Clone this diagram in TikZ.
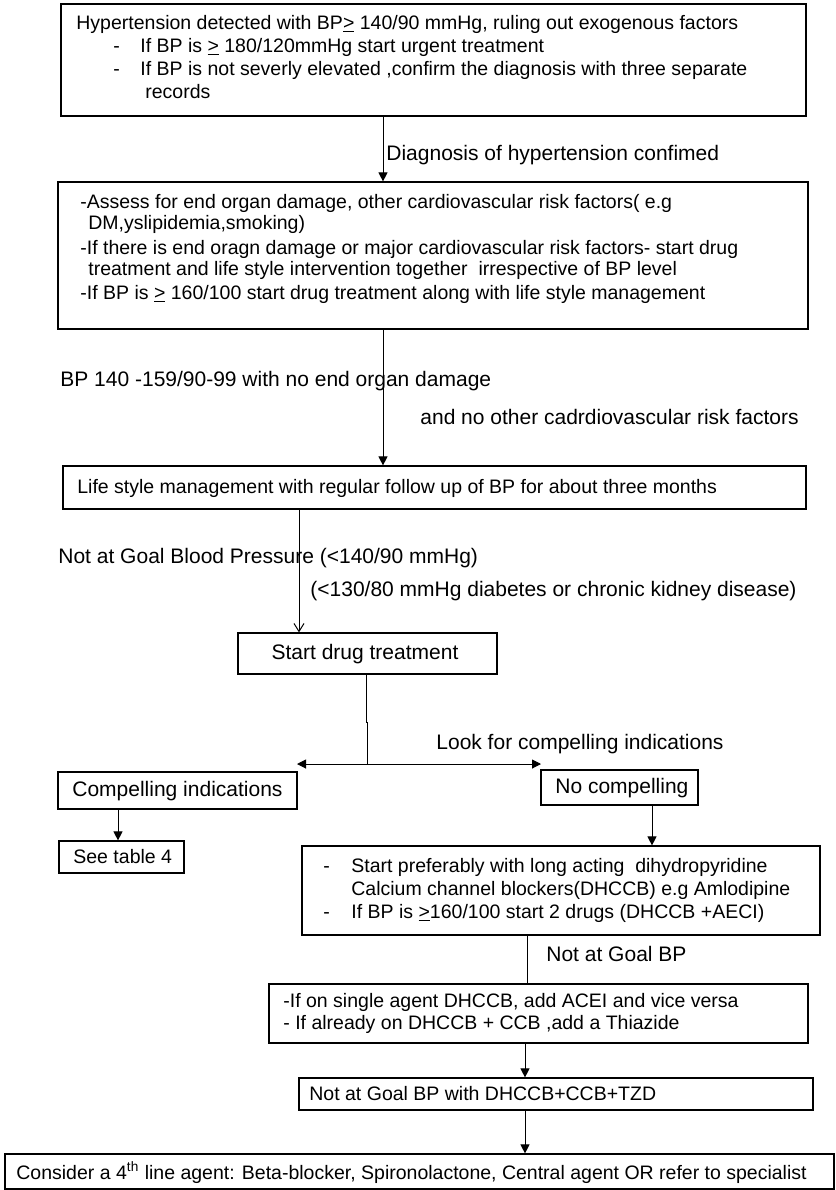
\documentclass[tikz,border=0pt]{standalone}
\usepackage{fontspec}
\setmainfont{Liberation Sans}
\usetikzlibrary{arrows.meta,fit}
\begin{document}
\begin{tikzpicture}[x=0.5pt,y=-0.5pt,
  box/.style={draw=black, line width=0.6pt, inner sep=0pt},
  txs/.style={inner sep=0pt, anchor=base west, font=\fontsize{9.75pt}{10.6pt}\selectfont},
  txl/.style={inner sep=0pt, anchor=base west, font=\fontsize{10.5pt}{11.5pt}\selectfont},
  link/.style={line width=0.5pt},
  arr/.style={link, -{Triangle[length=4.5pt,width=4.5pt]}},
  arrv/.style={link, -{Straight Barb[length=4pt,width=5pt]}},
]
\useasboundingbox (0,0) rectangle (836,1190);

% ---- boxes
\node[box, fit={(61,4) (806,116)}]      (b1) {};
\node[box, fit={(58,182) (808,329)}]    (b2) {};
\node[box, fit={(63,466) (806,509)}]    (b3) {};
\node[box, fit={(238,633) (497,674)}]   (b4) {};
\node[box, fit={(58,772) (297,809)}]    (b5) {};
\node[box, fit={(541,770) (698,805)}]   (b6) {};
\node[box, fit={(59,841) (184,873)}]    (b7) {};
\node[box, fit={(302,846) (820,935)}]   (b8) {};
\node[box, fit={(269,984) (808,1043)}]  (b9) {};
\node[box, fit={(299,1078) (813,1110)}] (b10) {};
\node[box, fit={(5,1154) (834,1189)}]   (b11) {};

% ---- box texts
\node[txs] (b1l1) at (76,29) {Hypertension detected with BP\underline{>} 140/90 mmHg, ruling out exogenous factors};
\node[txs] (b1l2) at (113,52) {\makebox[13.5pt][l]{-}If BP is \underline{>} 180/120mmHg start urgent treatment};
\node[txs] (b1l3) at (113,75.5) {\makebox[13.5pt][l]{-}If BP is not severly elevated ,confirm the diagnosis with three separate};
\node[txs] (b1l4) at (145,98) {records};

\node[txs] (b2l1) at (80,208) {-Assess for end organ damage, other cardiovascular risk factors( e.g};
\node[txs] (b2l2) at (88,229.5) {DM,yslipidemia,smoking)};
\node[txs] (b2l3) at (80,254) {-If there is end oragn damage or major cardiovascular risk factors- start drug};
\node[txs] (b2l4) at (88,275.5) {treatment and life style intervention together\ \ irrespective of BP level};
\node[txs] (b2l5) at (80,299) {-If BP is \underline{>} 160/100 start drug treatment along with life style management};

\node[txs] (b3l1) at (77,493) {Life style management with regular follow up of BP for about three months};

\node[txl, anchor=base] (b4l1) at (365,659) {Start drug treatment};
\node[txl] (b5l1) at (72,796) {Compelling indications};
\node[txl] (b6l1) at (555,793) {No compelling};
\node[txs] (b7l1) at (73,863) {See table 4};

\node[txs] (b8l1) at (323,872) {\makebox[14pt][l]{-}Start preferably with long acting\ \ dihydropyridine};
\node[txs] (b8l2) at (351,895) {Calcium channel blockers(DHCCB) e.g Amlodipine};
\node[txs] (b8l3) at (323,918) {\makebox[14pt][l]{-}If BP is \underline{>}160/100 start 2 drugs (DHCCB +AECI)};

\node[txs] (b9l1) at (283,1007) {-If on single agent DHCCB, add ACEI and vice versa};
\node[txs] (b9l2) at (283,1029) {- If already on DHCCB + CCB ,add a Thiazide};

\node[txs] (b10l1) at (309,1100) {Not at Goal BP with DHCCB+CCB+TZD};
\node[txs] (b11l1) at (16,1179) {Consider a 4\textsuperscript{th} line agent: Beta-blocker, Spironolactone, Central agent OR refer to specialist};

% ---- connector labels
\node[txl] (lab1) at (386,160) {Diagnosis of hypertension confimed};
\node[txl] (lab2) at (60,386) {BP 140 -159/90-99 with no end organ damage};
\node[txl] (lab3) at (420,424) {and no other cadrdiovascular risk factors};
\node[txl] (lab4) at (58,563) {Not at Goal Blood Pressure (<140/90 mmHg)};
\node[txl] (lab5) at (310,596) {(<130/80 mmHg diabetes or chronic kidney disease)};
\node[txl] (lab6) at (436,749) {Look for compelling indications};
\node[txl] (lab7) at (546,961) {Not at Goal BP};

% ---- connector columns and junction points
\coordinate (c1) at (383,0);
\coordinate (c3) at (299,0);
\coordinate (c4) at (366,0);
\coordinate (c5) at (118,0);
\coordinate (c6) at (652,0);
\coordinate (c7) at (527,0);
\coordinate (c8) at (525,0);
\coordinate (jg) at (366,722);
\coordinate (tj) at (367,764);
\coordinate (tl) at (297,764);
\coordinate (tr) at (541,764);

% ---- connectors
\draw[arr]  (b1.south -| c1) -- (b2.north -| c1);
\draw[arr]  (b2.south -| c1) -- (b3.north -| c1);
\draw[arrv] (b3.south -| c3) -- (b4.north -| c3);
\draw[link] (b4.south -| c4) -- (jg) -- (jg -| tj) -- (tj);
\draw[arr]  (tj) -- (tl);
\draw[arr]  (tj) -- (tr);
\draw[arr]  (b5.south -| c5) -- (b7.north -| c5);
\draw[arr]  (b6.south -| c6) -- (b8.north -| c6);
\draw[link] (b8.south -| c7) -- (b9.north -| c7);
\draw[arr]  (b9.south -| c8) -- (b10.north -| c8);
\draw[arr]  (b10.south -| c8) -- (b11.north -| c8);
\end{tikzpicture}
\end{document}
